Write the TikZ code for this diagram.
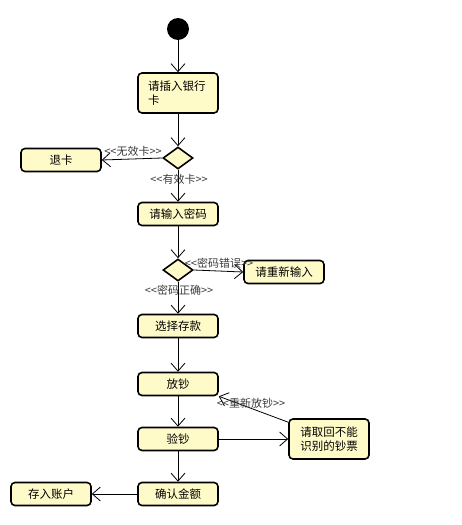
\documentclass[tikz,border=0pt]{standalone}
\usepackage{fontspec}
\setmainfont{Noto Sans CJK SC}[Ligatures=TeXOff]
\usetikzlibrary{arrows.meta,shapes.geometric}
\definecolor{boxfill}{HTML}{FFFBC9}
\definecolor{lblgray}{HTML}{3A3A3A}
\tikzset{
  act/.style={draw=black, line width=1.6pt, rounded corners=4pt, fill=boxfill,
    minimum width=80pt, minimum height=23pt, inner sep=2pt, font=\fontsize{11.5}{14}\selectfont, align=center},
  dec/.style={diamond, draw=black, line width=1.6pt, fill=boxfill, minimum width=30pt, minimum height=22pt, inner sep=0pt},
  flow/.style={draw=black, line width=0.8pt, -{Straight Barb[length=8pt,width=14pt,line width=0.8pt]}},
  lbl/.style={text=lblgray, font=\fontsize{11}{12}\selectfont, inner sep=0pt}
}
\begin{document}
\begin{tikzpicture}[x=1pt,y=-1pt]
\useasboundingbox (0,0) rectangle (461,525);
\node[circle, fill=black, minimum size=22pt, inner sep=0pt] (start) at (178,29) {};
\node[act, minimum height=40pt, align=left, text width=60pt] (insert) at (178,93) {请插入银行\\卡};
\node[dec] (d1) at (178,158) {};
\node[act] (eject) at (61,160) {退卡};
\node[act] (pwd) at (178,214) {请输入密码};
\node[dec] (d2) at (178,270) {};
\node[act] (retry) at (284,272) {请重新输入};
\node[act] (choose) at (178,326) {选择存款};
\node[act] (put) at (178,384) {放钞};
\node[act] (check) at (178,439) {验钞};
\node[act, minimum height=40pt] (fetch) at (329,439) {请取回不能\\识别的钞票};
\node[act] (confirm) at (178,494) {确认金额};
\node[act] (deposit) at (51,494) {存入账户};

\draw[flow] (start) -- (insert);
\draw[flow] (insert) -- (d1);
\draw[flow] (d1.west) -- (eject.east);
\draw[flow] (d1) -- (pwd);
\draw[flow] (pwd) -- (d2);
\draw[flow] (d2.east) -- (retry.west);
\draw[flow] (d2) -- (choose);
\draw[flow] (choose) -- (put);
\draw[flow] (put) -- (check);
\draw[flow] (check) -- (fetch);
\draw[flow] ([yshift=-4pt]fetch.north west) -- (put.south east);
\draw[flow] (check) -- (confirm);
\draw[flow] (confirm) -- (deposit);

\node[lbl] (l1) at (133,151) {<<无效卡>>};
\node[lbl] (l2) at (179,179) {<<有效卡>>};
\node[lbl] (l3) at (219,263) {<<密码错误>>};
\node[lbl] (l4) at (179,290) {<<密码正确>>};
\node[lbl] (l5) at (251,403) {<<重新放钞>>};
\end{tikzpicture}
\end{document}
